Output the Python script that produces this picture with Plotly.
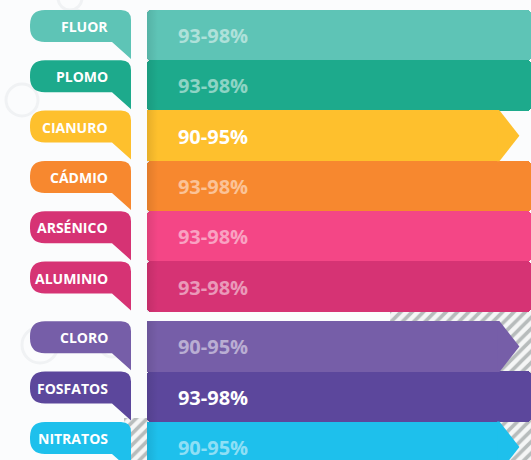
import plotly.graph_objects as go

# ---------------- data ----------------
categories = ["FLUOR", "PLOMO", "CIANURO", "CÁDMIO", "ARSÉNICO",
              "ALUMINIO", "CLORO", "FOSFATOS", "NITRATOS"]
range_labels = ["93-98%", "93-98%", "90-95%", "93-98%", "93-98%",
                "93-98%", "90-95%", "93-98%", "90-95%"]
upper_values = [98, 98, 95, 98, 98, 98, 95, 98, 95]
bar_colors = ["#5EC4B6", "#1DAA8C", "#FEC02D", "#F7882F", "#F44686",
              "#D63374", "#765EA8", "#5C479C", "#1EC0EC"]
bubble_colors = ["#5EC4B6", "#1DAA8C", "#FEC02D", "#F7882F", "#D63374",
                 "#D63374", "#765EA8", "#5C479C", "#1EC0EC"]
text_opacity = [0.5, 0.5, 1.0, 0.5, 0.5, 0.5, 0.5, 1.0, 0.5]

# ---------------- geometry ----------------
W, H = 531, 460
K = 3.92            # pixels per percentage unit
BAR_START_PX = 147
X0 = -BAR_START_PX / K
X1 = X0 + W / K


def px2x(p):
    return (p - BAR_START_PX) / K


PITCH = 50.3
FIRST_TOP = 10
GAP = 9.5
n = len(categories)
tops = [FIRST_TOP + PITCH * i + (GAP if i > 5 else 0) for i in range(n)]
centers = [t + PITCH / 2 for t in tops]
ARROW = 20 / K
vmax = max(upper_values)
BW = PITCH + 0.6

fig = go.Figure()

# hatched background decoration (bars drawn first so they sit underneath)
hatch_boxes = [(390, W, 311, H), (124, 150, 418, H)]
for (xa, xb, ya, yb) in hatch_boxes:
    fig.add_trace(go.Bar(
        orientation="h", x=[px2x(xb) - px2x(xa)], base=[px2x(xa)],
        y=[(ya + yb) / 2], width=yb - ya,
        marker=dict(color="#f5f6f6", line=dict(width=0),
                    pattern=dict(shape="/", fgcolor="#7a8282", bgcolor="#f5f6f6",
                                 size=8, solidity=0.45, fillmode="overlay")),
        hoverinfo="skip", showlegend=False))

# bars: flat-ended (full range) and arrow-ended
flat_idx = [i for i in range(n) if upper_values[i] >= vmax]
arrow_idx = [i for i in range(n) if upper_values[i] < vmax]

fig.add_trace(go.Bar(
    orientation="h",
    x=[upper_values[i] for i in flat_idx],
    y=[centers[i] for i in flat_idx],
    base=0, width=BW,
    marker=dict(color=[bar_colors[i] for i in flat_idx], line=dict(width=0),
                cornerradius=4),
    hoverinfo="skip", showlegend=False))

fig.add_trace(go.Bar(
    orientation="h",
    x=[upper_values[i] - ARROW for i in arrow_idx],
    y=[centers[i] for i in arrow_idx],
    base=0, width=BW,
    marker=dict(color=[bar_colors[i] for i in arrow_idx], line=dict(width=0)),
    hoverinfo="skip", showlegend=False))

for i in arrow_idx:
    top, bot = centers[i] - BW / 2, centers[i] + BW / 2
    xb = upper_values[i] - ARROW - 0.6
    xj = upper_values[i] - ARROW
    fig.add_trace(go.Scatter(
        x=[xb, xj, upper_values[i], xj, xb, xb],
        y=[top, top, centers[i], bot, bot, top],
        mode="lines", fill="toself", line=dict(width=0),
        fillcolor=bar_colors[i], hoverinfo="skip", showlegend=False))

# soft shadow at left edge of bars
for (ya, yb) in [(tops[0], tops[5] + PITCH), (tops[6], H)]:
    fig.add_trace(go.Scatter(
        x=[px2x(147), px2x(158), px2x(158), px2x(147), px2x(147)],
        y=[ya, ya, yb, yb, ya],
        mode="lines", fill="toself", line=dict(width=0),
        fillgradient=dict(type="horizontal",
                          colorscale=[[0, "rgba(0,0,0,0.09)"],
                                      [1, "rgba(0,0,0,0)"]]),
        hoverinfo="skip", showlegend=False))

# value texts
fig.add_trace(go.Scatter(
    x=[px2x(213)] * n,
    y=[c + 3 for c in centers],
    mode="text",
    text=range_labels,
    textposition="middle center",
    textfont=dict(family="Open Sans", size=20, weight="bold",
                  color=[f"rgba(255,255,255,{a})" for a in text_opacity]),
    hoverinfo="skip", showlegend=False))

# speech-bubble labels
shapes = []
for (cx, cy, r) in [(22, 100, 16), (70, -2, 12), (40, 345, 18), (75, 20, 10), (112, 345, 12)]:
    shapes.append(dict(type="circle", xref="x", yref="y", layer="below",
                       x0=px2x(cx - r), x1=px2x(cx + r), y0=cy - r, y1=cy + r,
                       line=dict(color="#f0f2f4", width=3)))

L, R, TB = 30, 131, 112
for i in range(n):
    t = tops[i]
    b = t + 32
    tip = t + 49
    rl, rr = 15, 10
    pts = (
        f"M {px2x(L + rl)},{t} L {px2x(R - rr)},{t} "
        f"Q {px2x(R)},{t} {px2x(R)},{t + rr} "
        f"L {px2x(R)},{tip} L {px2x(TB)},{b} "
        f"L {px2x(L + rl)},{b} Q {px2x(L)},{b} {px2x(L)},{b - rl} "
        f"L {px2x(L)},{t + rl} Q {px2x(L)},{t} {px2x(L + rl)},{t} Z"
    )
    shapes.append(dict(type="path", path=pts, xref="x", yref="y",
                       fillcolor=bubble_colors[i], line=dict(width=0),
                       layer="above"))

annotations = []
for i in range(n):
    annotations.append(dict(
        x=px2x(110), y=tops[i] + 16.5, xref="x", yref="y",
        text=categories[i], showarrow=False, xanchor="right", yanchor="middle",
        font=dict(family="Open Sans", size=14, color="white", weight="bold")))

fig.update_layout(
    width=W, height=H,
    margin=dict(l=0, r=0, t=0, b=0, pad=0),
    paper_bgcolor="#fbfcfd", plot_bgcolor="#fbfcfd",
    xaxis=dict(range=[X0, X1], visible=False, fixedrange=True),
    yaxis=dict(range=[H, 0], visible=False, fixedrange=True),
    barmode="overlay", bargap=0,
    shapes=shapes, annotations=annotations,
    showlegend=False,
)

fig.write_html("out.html", config={"displayModeBar": False},
               post_script="document.body.style.margin='0px';document.body.style.overflow='hidden';")
